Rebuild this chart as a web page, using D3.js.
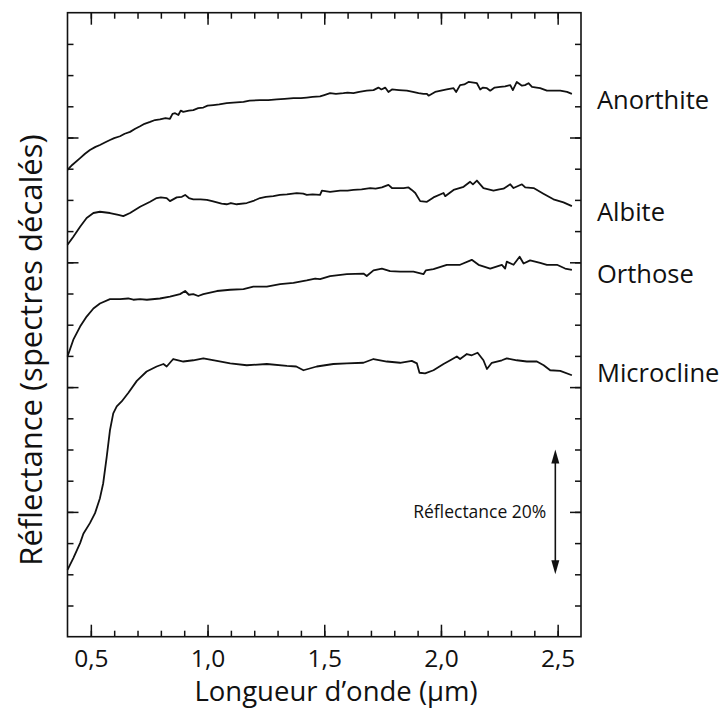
<!DOCTYPE html>
<html><head><meta charset="utf-8">
<script src="https://cdn.jsdelivr.net/npm/d3@7"></script>
<style>body{margin:0;background:#fff}svg{display:block}</style>
</head><body><svg id="c" width="726" height="708"></svg>
<script>
// ---- data (wavelength in µm, shifted reflectance in %) ----
const xMajorTicks = [0.5, 1.0, 1.5, 2.0, 2.5];
const xTickLabels = ["0,5", "1,0", "1,5", "2,0", "2,5"];
const xMinorTicks = [0.5,0.6,0.7,0.8,0.9,1.0,1.1,1.2,1.3,1.4,1.5,1.6,1.7,1.8,1.9,2.0,2.1,2.2,2.3,2.4,2.5];
const yMajorTicks = [20, 40, 60, 80];
const yMinorTicks = [5,10,15,20,25,30,35,40,45,50,55,60,65,70,75,80,85,90,95];
const seriesNames = ["Anorthite", "Albite", "Orthose", "Microcline"];
const labelLevels = [86.0, 68.0, 58.1, 42.3];
const scaleBar = [10, 30];      // 20 % reflectance
const scaleBarX = 2.49;

const anorthite = [[0.40,74.8],[0.42,75.6],[0.454,76.7],[0.475,77.4],[0.496,78.0],[0.52,78.5],[0.539,78.8],[0.56,79.2],[0.582,79.6],[0.60,79.9],[0.625,80.2],[0.645,80.6],[0.668,80.9],[0.69,81.4],[0.711,81.8],[0.73,82.2],[0.754,82.5],[0.775,82.8],[0.796,82.9],[0.82,83.1],[0.839,83.0],[0.85,83.8],[0.861,83.9],[0.875,83.6],[0.885,84.3],[0.896,84.1],[0.92,84.3],[0.939,84.4],[0.96,84.7],[0.982,84.8],[1.0,85.1],[1.025,85.2],[1.05,85.3],[1.082,85.5],[1.11,85.6],[1.154,85.7],[1.18,85.9],[1.225,86.0],[1.26,86.0],[1.297,86.1],[1.33,86.2],[1.368,86.3],[1.40,86.3],[1.425,86.4],[1.45,86.5],[1.482,86.6],[1.50,86.8],[1.525,87.1],[1.55,87.0],[1.582,87.1],[1.60,87.2],[1.625,87.1],[1.65,87.3],[1.682,87.5],[1.711,87.6],[1.732,88.0],[1.745,87.7],[1.761,88.0],[1.775,87.3],[1.790,87.7],[1.82,87.6],[1.854,87.5],[1.88,87.3],[1.904,87.1],[1.925,87.0],[1.940,87.0],[1.947,86.7],[1.975,87.3],[2.0,87.5],[2.025,87.7],[2.054,87.9],[2.065,87.3],[2.082,88.4],[2.10,88.5],[2.118,88.9],[2.14,88.8],[2.154,88.7],[2.168,87.7],[2.18,88.0],[2.197,87.9],[2.211,87.5],[2.23,88.0],[2.254,88.1],[2.275,88.2],[2.297,88.4],[2.308,87.6],[2.325,88.9],[2.347,88.3],[2.36,88.4],[2.375,88.7],[2.39,88.1],[2.41,88.0],[2.425,87.9],[2.454,87.5],[2.48,87.5],[2.511,87.5],[2.54,87.3],[2.561,87.0]];

const albite = [[0.40,62.8],[0.425,64.1],[0.454,65.7],[0.482,67.1],[0.511,67.9],[0.539,68.1],[0.582,67.9],[0.618,67.6],[0.639,67.4],[0.668,67.9],[0.711,68.9],[0.754,69.7],[0.782,70.3],[0.80,70.4],[0.825,70.3],[0.839,69.8],[0.868,70.4],[0.89,70.5],[0.904,70.8],[0.92,70.3],[0.939,70.1],[0.97,70.1],[0.997,70.0],[1.02,69.8],[1.040,69.6],[1.06,69.4],[1.082,69.3],[1.10,69.5],[1.125,69.3],[1.168,69.5],[1.20,69.9],[1.225,70.3],[1.25,70.5],[1.282,70.6],[1.31,70.8],[1.340,70.9],[1.382,71.1],[1.41,71.0],[1.425,70.8],[1.45,70.9],[1.482,70.8],[1.49,71.5],[1.525,71.3],[1.568,71.5],[1.60,71.5],[1.625,71.6],[1.66,71.7],[1.697,71.9],[1.72,71.8],[1.747,72.0],[1.775,72.4],[1.79,71.9],[1.811,71.9],[1.84,71.9],[1.861,72.0],[1.875,71.6],[1.890,71.1],[1.911,69.8],[1.94,69.7],[1.968,70.4],[2.011,71.1],[2.018,70.6],[2.054,71.6],[2.097,72.1],[2.125,72.9],[2.137,72.5],[2.154,73.1],[2.182,71.9],[2.225,71.5],[2.25,71.7],[2.268,71.8],[2.297,72.5],[2.311,71.9],[2.347,72.5],[2.361,72.0],[2.397,71.9],[2.439,71.0],[2.482,70.1],[2.525,69.6],[2.561,69.0]];

const orthose = [[0.40,44.9],[0.425,47.6],[0.454,49.7],[0.482,51.3],[0.511,52.6],[0.539,53.4],[0.582,54.1],[0.625,54.1],[0.66,54.2],[0.682,54.0],[0.711,54.1],[0.74,54.0],[0.796,54.2],[0.839,54.5],[0.882,54.9],[0.904,55.4],[0.92,54.8],[0.939,54.9],[0.96,54.6],[0.982,54.9],[1.04,55.4],[1.097,55.6],[1.154,55.7],[1.196,56.1],[1.254,56.1],[1.311,56.5],[1.368,56.7],[1.425,57.1],[1.461,57.4],[1.482,57.3],[1.525,57.8],[1.597,58.1],[1.668,58.2],[1.682,57.8],[1.711,58.7],[1.747,59.0],[1.782,58.6],[1.825,58.5],[1.882,58.5],[1.925,58.1],[1.935,58.7],[1.968,58.9],[2.025,59.6],[2.082,59.6],[2.132,60.4],[2.161,59.6],[2.211,59.0],[2.261,59.6],[2.275,59.0],[2.282,60.1],[2.311,59.6],[2.337,60.9],[2.354,59.8],[2.382,60.3],[2.425,59.9],[2.454,59.6],[2.497,59.6],[2.532,59.0],[2.561,58.8]];

const microcline = [[0.40,10.7],[0.425,12.6],[0.454,15.0],[0.468,16.5],[0.496,18.2],[0.518,19.8],[0.539,22.2],[0.553,24.6],[0.568,28.8],[0.582,33.1],[0.596,35.8],[0.611,36.9],[0.632,37.7],[0.661,39.1],[0.697,41.0],[0.739,42.5],[0.782,43.3],[0.811,43.7],[0.825,43.3],[0.839,43.9],[0.853,44.5],[0.896,44.1],[0.939,44.3],[0.982,44.6],[1.040,44.2],[1.097,43.8],[1.168,43.5],[1.254,43.7],[1.340,43.4],[1.380,43.3],[1.411,42.7],[1.468,43.3],[1.539,43.7],[1.597,43.8],[1.668,43.9],[1.711,44.5],[1.768,44.1],[1.825,43.9],[1.875,44.2],[1.897,43.8],[1.908,42.3],[1.932,42.2],[1.968,42.7],[2.011,43.7],[2.040,44.3],[2.068,44.9],[2.082,44.5],[2.111,45.3],[2.132,45.1],[2.157,45.5],[2.182,44.3],[2.197,42.9],[2.218,43.9],[2.261,44.3],[2.282,44.6],[2.325,44.3],[2.368,44.1],[2.411,44.1],[2.440,43.5],[2.468,42.7],[2.511,42.6],[2.561,41.9]];

const spectra = [anorthite, albite, orthose, microcline];

// ---- layout ----
const L = 67.5, R = 581, T = 12.7, B = 636.7;
const FONT = "'Open Sans', 'Noto Sans', sans-serif";
const svg = d3.select("#c");
const x = d3.scaleLinear().domain([0.4, 2.6]).range([L, R]);
const y = d3.scaleLinear().domain([0, 100]).range([B, T]);

// spectra
const line = d3.line().x(d => x(d[0])).y(d => y(d[1]));
svg.append("g").selectAll("path").data(spectra).join("path")
  .attr("d", line).attr("fill", "none").attr("stroke", "#111")
  .attr("stroke-width", 1.8).attr("stroke-linejoin", "round");

// axes (ticks pointing inward)
function noLabels(g){ g.selectAll("text").remove(); g.select(".domain").remove(); g.selectAll("line").attr("stroke-width",1.5).attr("stroke","#111"); }
svg.append("g").attr("transform", `translate(0,${B})`)
  .call(d3.axisBottom(x).tickValues(xMinorTicks).tickSize(-6)).call(noLabels);
svg.append("g").attr("transform", `translate(0,${T})`)
  .call(d3.axisTop(x).tickValues(xMinorTicks).tickSize(-6)).call(noLabels);
svg.append("g").attr("transform", `translate(0,${T})`)
  .call(d3.axisTop(x).tickValues(xMajorTicks).tickSize(-12)).call(noLabels);
const xb = svg.append("g").attr("transform", `translate(0,${B})`)
  .call(d3.axisBottom(x).tickValues(xMajorTicks).tickSize(-12).tickPadding(13)
        .tickFormat((d, i) => xTickLabels[i]));
xb.select(".domain").remove();
xb.selectAll("line").attr("stroke-width",1.5).attr("stroke","#111");
xb.selectAll("text").attr("font-family", FONT).attr("font-size", 24.5).attr("fill", "#111");

svg.append("g").attr("transform", `translate(${L},0)`)
  .call(d3.axisLeft(y).tickValues(yMinorTicks).tickSize(-6)).call(noLabels);
svg.append("g").attr("transform", `translate(${L},0)`)
  .call(d3.axisLeft(y).tickValues(yMajorTicks).tickSize(-11)).call(noLabels);
svg.append("g").attr("transform", `translate(${R},0)`)
  .call(d3.axisRight(y).tickValues(yMinorTicks).tickSize(-6)).call(noLabels);
svg.append("g").attr("transform", `translate(${R},0)`)
  .call(d3.axisRight(y).tickValues(yMajorTicks).tickSize(-11)).call(noLabels);

// frame
svg.append("rect").attr("x", L).attr("y", T).attr("width", R - L).attr("height", B - T)
  .attr("fill", "none").attr("stroke", "#111").attr("stroke-width", 1.6);

// series labels
svg.append("g").selectAll("text").data(seriesNames).join("text")
  .attr("x", R + 16).attr("y", (d, i) => y(labelLevels[i]))
  .attr("dy", "0.35em").attr("font-family", FONT).attr("font-size", 25.5).attr("fill", "#111")
  .text(d => d);

// scale bar
const ax = x(scaleBarX);
svg.append("line").attr("x1", ax).attr("x2", ax)
  .attr("y1", y(scaleBar[0]) - 12).attr("y2", y(scaleBar[1]) + 12)
  .attr("stroke", "#111").attr("stroke-width", 1.6);
const head = (tip, dir) => `M${ax},${tip} L${ax - 4},${tip + dir * 14} L${ax + 4},${tip + dir * 14} Z`;
svg.append("path").attr("d", head(y(scaleBar[1]), 1)).attr("fill", "#111");
svg.append("path").attr("d", head(y(scaleBar[0]), -1)).attr("fill", "#111");
svg.append("text").attr("x", ax - 9).attr("y", y((scaleBar[0] + scaleBar[1]) / 2))
  .attr("dy", "0.35em").attr("text-anchor", "end")
  .attr("font-family", FONT).attr("font-size", 17.5).attr("fill", "#111")
  .text("Réflectance 20%");

// axis titles
svg.append("text").attr("x", 336).attr("y", 701).attr("text-anchor", "middle")
  .attr("font-family", FONT).attr("font-size", 27.5).attr("fill", "#111")
  .text("Longueur d’onde (µm)");
svg.append("text").attr("transform", `translate(42,350) rotate(-90)`)
  .attr("text-anchor", "middle")
  .attr("font-family", FONT).attr("font-size", 31).attr("fill", "#111")
  .text("Réflectance (spectres décalés)");
</script></body></html>
